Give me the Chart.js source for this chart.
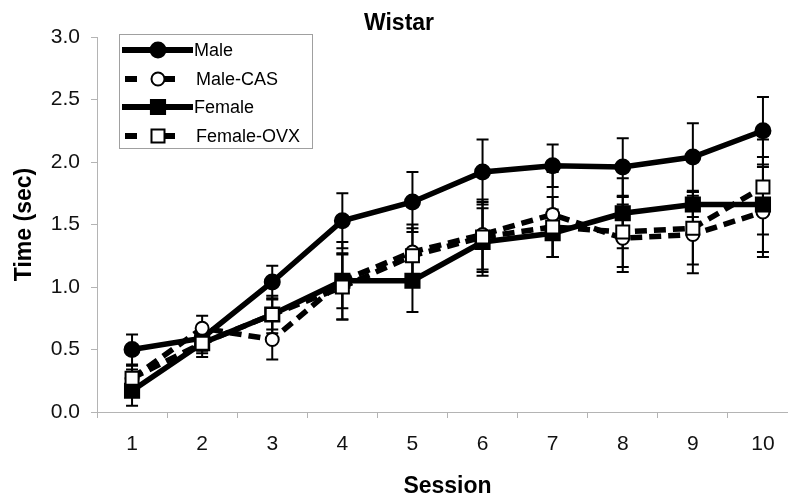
<!DOCTYPE html>
<html>
<head>
<meta charset="utf-8">
<script src="https://cdn.jsdelivr.net/npm/chart.js@4/dist/chart.umd.min.js"></script>
<style>
  html, body { margin: 0; padding: 0; background: #fff; overflow: hidden; }
  #wrap { width: 788px; height: 500px; overflow: hidden; }
  canvas { display: block; }
</style>
</head>
<body>
<div id="wrap"><canvas id="chart" width="860" height="500"></canvas></div>
<script>
(function () {
  'use strict';

  // данные
  var sessions = ['1', '2', '3', '4', '5', '6', '7', '8', '9', '10'];
  var yTicks = [0, 0.5, 1, 1.5, 2, 2.5, 3];

  var male = [0.50, 0.59, 1.04, 1.53, 1.68, 1.92, 1.97, 1.96, 2.04, 2.25];
  var maleErr = [0.12, 0.10, 0.13, 0.22, 0.24, 0.26, 0.17, 0.23, 0.27, 0.27];
  var maleCas = [0.27, 0.67, 0.58, 1.05, 1.28, 1.42, 1.58, 1.39, 1.42, 1.60];
  var maleCasErr = [0.07, 0.10, 0.16, 0.22, 0.22, 0.28, 0.34, 0.27, 0.31, 0.36];
  var female = [0.17, 0.55, 0.78, 1.05, 1.05, 1.36, 1.43, 1.59, 1.66, 1.66];
  var femaleErr = [0.12, 0.08, 0.12, 0.31, 0.25, 0.27, 0.19, 0.28, 0.10, 0.38];
  var femaleOvx = [0.27, 0.55, 0.78, 1.00, 1.25, 1.40, 1.48, 1.44, 1.47, 1.80];
  var femaleOvxErr = [0.10, 0.11, 0.15, 0.26, 0.22, 0.28, 0.24, 0.28, 0.29, 0.38];

  var axisGray = '#b4b4b4';
  Chart.defaults.font.family = '"Liberation Sans", Arial, sans-serif';
  Chart.defaults.color = '#000';

  // планки погрешностей под маркерами
  var errorBars = {
    id: 'errorBars',
    beforeDatasetsDraw: function (chart) {
      var ctx = chart.ctx;
      var y = chart.scales.y;
      chart.data.datasets.forEach(function (ds, i) {
        var meta = chart.getDatasetMeta(i);
        ctx.save();
        ctx.strokeStyle = '#000';
        ctx.lineWidth = 2;
        meta.data.forEach(function (pt, j) {
          var top = y.getPixelForValue(ds.data[j] + ds.errors[j]);
          var bot = y.getPixelForValue(ds.data[j] - ds.errors[j]);
          ctx.beginPath();
          ctx.moveTo(pt.x, top); ctx.lineTo(pt.x, bot);
          ctx.moveTo(pt.x - 6, top); ctx.lineTo(pt.x + 6, top);
          ctx.moveTo(pt.x - 6, bot); ctx.lineTo(pt.x + 6, bot);
          ctx.stroke();
        });
        ctx.restore();
      });
    }
  };

  // легенда в стиле Excel: линия + маркер
  var boxLegend = {
    id: 'boxLegend',
    afterDraw: function (chart) {
      var ctx = chart.ctx;
      ctx.save();
      ctx.fillStyle = '#fff';
      ctx.fillRect(119.5, 34.5, 193, 114);
      ctx.strokeStyle = '#a0a0a0';
      ctx.lineWidth = 1;
      ctx.strokeRect(119.5, 34.5, 193, 114);
      var rows = [50, 79, 107, 136];
      chart.data.datasets.forEach(function (ds, i) {
        var ry = rows[i];
        ctx.save();
        ctx.strokeStyle = '#000';
        ctx.lineWidth = 6;
        ctx.beginPath();
        if (ds.borderDash && ds.borderDash.length) {
          ctx.moveTo(125, ry); ctx.lineTo(137, ry);
          ctx.moveTo(158, ry); ctx.lineTo(175, ry);
        } else {
          ctx.moveTo(122, ry); ctx.lineTo(193, ry);
        }
        ctx.stroke();
        ctx.fillStyle = ds.pointBackgroundColor;
        ctx.strokeStyle = '#000';
        ctx.lineWidth = ds.pointBorderWidth;
        Chart.helpers.drawPoint(ctx, {
          pointStyle: ds.pointStyle,
          radius: ds.pointRadius,
          borderWidth: ds.pointBorderWidth,
          rotation: 0
        }, 158, ry);
        ctx.restore();
        ctx.fillStyle = '#000';
        ctx.font = '18px "Liberation Sans", Arial, sans-serif';
        ctx.textBaseline = 'middle';
        ctx.fillText(ds.label, ds.borderDash.length ? 196 : 194, ry + 1);
      });
      ctx.restore();
    }
  };

  function series(label, data, errors, style, filled, dashed, order) {
    return {
      label: label,
      data: data,
      errors: errors,
      order: order,
      borderColor: '#000',
      borderWidth: 5.5,
      borderDash: dashed ? [12, 7] : [],
      fill: false,
      tension: 0,
      pointStyle: style,
      pointRadius: style === 'rect' ? (filled ? 10 : 9.2) : (filled ? 7.5 : 6.5),
      pointBackgroundColor: filled ? '#000' : '#fff',
      pointBorderColor: '#000',
      pointBorderWidth: 2,
      pointHoverRadius: 0
    };
  }

  new Chart(document.getElementById('chart'), {
    type: 'line',
    data: {
      labels: sessions,
      datasets: [
        series('Male', male, maleErr, 'circle', true, false, 4),
        series('Male-CAS', maleCas, maleCasErr, 'circle', false, true, 3),
        series('Female', female, femaleErr, 'rect', true, false, 2),
        series('Female-OVX', femaleOvx, femaleOvxErr, 'rect', false, true, 1)
      ]
    },
    options: {
      responsive: false,
      animation: false,
      layout: { padding: { left: 0, right: 62, top: 0, bottom: 0 } },
      plugins: {
        legend: { display: false },
        tooltip: { enabled: false },
        title: {
          display: true,
          text: 'Wistar',
          font: { size: 23, weight: 'bold' },
          padding: { top: 10, bottom: -0.6 }
        }
      },
      scales: {
        x: {
          type: 'category',
          offset: true,
          grid: { offset: true, drawOnChartArea: false, tickLength: 6, color: axisGray },
          border: { color: axisGray },
          ticks: { padding: 14, font: { size: 21 }, color: '#111' },
          title: {
            display: true,
            text: 'Session',
            font: { size: 23, weight: 'bold' },
            padding: { top: 0, bottom: 0 }
          },
          afterFit: function (scale) { scale.height = 88; }
        },
        y: {
          min: 0,
          max: 3,
          afterBuildTicks: function (scale) {
            scale.ticks = yTicks.map(function (v) { return { value: v }; });
          },
          grid: { drawOnChartArea: false, tickLength: 6, color: axisGray },
          border: { color: axisGray },
          ticks: {
            padding: 11,
            font: { size: 21 },
            color: '#111',
            callback: function (v) { return Number(v).toFixed(1); }
          },
          title: {
            display: true,
            text: 'Time (sec)',
            font: { size: 23, weight: 'bold' },
            padding: { top: 11, bottom: 0 }
          },
          afterFit: function (scale) { scale.width = 97; }
        }
      }
    },
    plugins: [errorBars, boxLegend]
  });
})();
</script>
</body>
</html>
